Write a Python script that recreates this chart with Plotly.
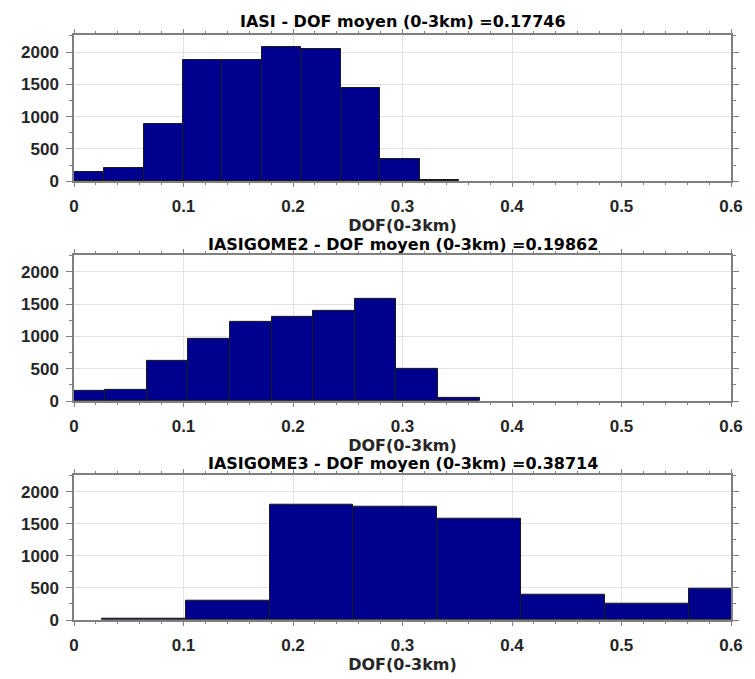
import plotly.graph_objects as go

# ---- data ----
titles = [
    "IASI - DOF moyen (0-3km) =0.17746",
    "IASIGOME2 - DOF moyen (0-3km) =0.19862",
    "IASIGOME3 - DOF moyen (0-3km) =0.38714",
]
x_label = "DOF(0-3km)"

edges_iasi = [-0.0086, 0.0274, 0.0635, 0.0995, 0.1356, 0.1716, 0.2076, 0.2437, 0.2797, 0.3158, 0.3518]
counts_iasi = [150, 205, 880, 1875, 1885, 2075, 2045, 1440, 345, 25]

edges_gome2 = [-0.0097, 0.0283, 0.0663, 0.1043, 0.1424, 0.1804, 0.2184, 0.2564, 0.2945, 0.3325, 0.3705]
counts_gome2 = [165, 180, 620, 965, 1235, 1300, 1400, 1585, 495, 45]

edges_gome3 = [0.0253, 0.1019, 0.1786, 0.2552, 0.3318, 0.4085, 0.4851, 0.5617, 0.6384]
counts_gome3 = [25, 298, 1790, 1760, 1575, 395, 255, 492]

x_ticks = [0, 0.1, 0.2, 0.3, 0.4, 0.5, 0.6]
y_ticks = [0, 500, 1000, 1500, 2000]

series = [(edges_iasi, counts_iasi), (edges_gome2, counts_gome2), (edges_gome3, counts_gome3)]

# ---- styling ----
BAR = "rgb(0,0,143)"
AXC = "#808080"
GRID = "#e3e3e3"
TXT = "#262626"
FONT = "Liberation Sans, Arial, sans-serif"
TFONT = "DejaVu Sans, Liberation Sans, sans-serif"

W, H = 755, 679
ML, MR, MT, MB = 74, 17, 35, 48
plot_h = H - MT - MB
panel_h = 149
gap = 75
domains = []
for i in range(3):
    top = i * (panel_h + gap)
    bottom = top + panel_h
    domains.append([1 - bottom / plot_h, 1 - top / plot_h])
domains[0][1] = 1.0
domains[2][0] = 0.0

fig = go.Figure()
for i, (edges, counts) in enumerate(series):
    centers = [(edges[k] + edges[k + 1]) / 2 for k in range(len(counts))]
    widths = [edges[k + 1] - edges[k] for k in range(len(counts))]
    sfx = "" if i == 0 else str(i + 1)
    fig.add_trace(go.Bar(
        x=centers, y=counts, width=widths,
        marker=dict(color=BAR, line=dict(color="#1a1a1a", width=1)),
        xaxis="x" + sfx, yaxis="y" + sfx, showlegend=False,
        hoverinfo="x+y",
    ))

    xa = dict(
        domain=[0, 1], anchor="y" + sfx, range=[0, 0.6],
        tickvals=x_ticks, ticks="outside", ticklen=4, tickwidth=1, tickcolor=AXC,
        minor=dict(ticks="outside", ticklen=2, dtick=0.02, tickcolor=AXC, showgrid=False),
        showline=True, linecolor=AXC, linewidth=1.5, mirror="allticks",
        showgrid=True, gridcolor=GRID, gridwidth=1, zeroline=False,
        tickfont=dict(family=FONT, size=17, color=TXT, weight="bold"),
        ticklabelstandoff=5,
        title=dict(text=x_label, standoff=1,
                   font=dict(family=TFONT, size=16, color=TXT, weight="bold")),
    )
    ya = dict(
        domain=domains[i], anchor="x" + sfx, range=[0, 2265],
        tickvals=y_ticks, ticks="outside", ticklen=6, tickwidth=1, tickcolor=AXC,
        minor=dict(ticks="outside", ticklen=3, dtick=250, tickcolor=AXC, showgrid=False),
        showline=True, linecolor=AXC, linewidth=1.5, mirror="allticks",
        showgrid=True, gridcolor=GRID, gridwidth=1, zeroline=False,
        tickfont=dict(family=FONT, size=17, color=TXT, weight="bold"),
        ticklabelstandoff=4,
    )
    fig.layout["xaxis" + sfx] = xa
    fig.layout["yaxis" + sfx] = ya

    title_px = [21, 248, 472][i]
    fig.add_annotation(
        text=titles[i], xref="paper", yref="paper",
        x=0.5, y=(H - MB - title_px) / plot_h, xanchor="center", yanchor="middle",
        showarrow=False, font=dict(family=TFONT, size=16, color="black", weight="bold"),
    )

fig.update_layout(
    width=W, height=H, margin=dict(l=ML, r=MR, t=MT, b=MB),
    paper_bgcolor="white", plot_bgcolor="white", bargap=0,
)

fig.write_html("out.html", config={"displayModeBar": False},
               post_script="document.body.style.margin='0';")
